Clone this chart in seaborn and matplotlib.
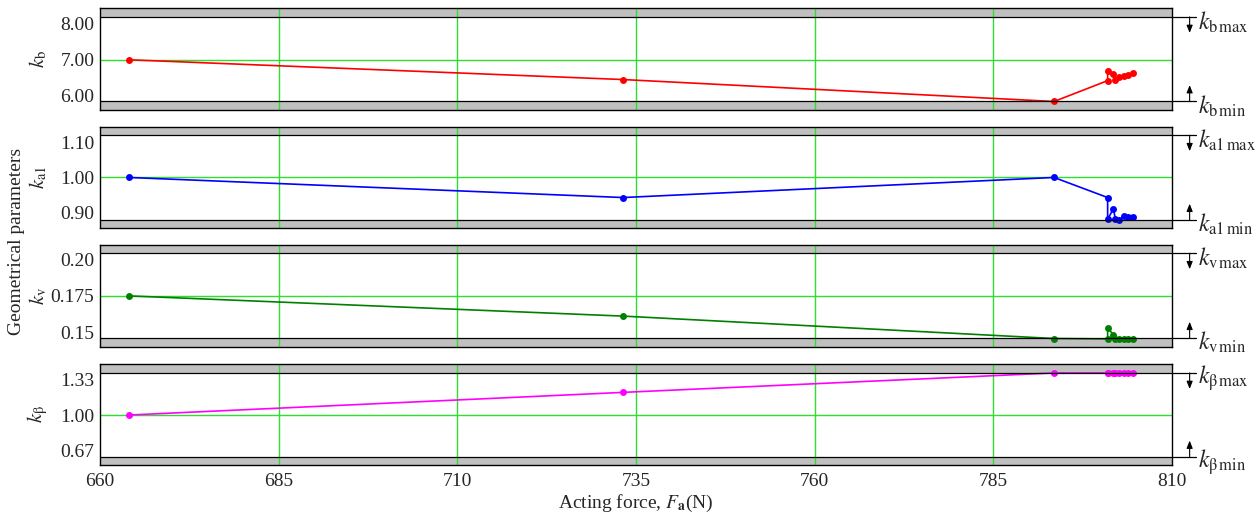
import numpy as np
import pandas as pd
import seaborn as sns
import matplotlib.pyplot as plt
from matplotlib import transforms

# acting force (N) for every computed design point
force = [664.0, 733.2, 793.5, 801.0, 801.0, 801.8, 802.1, 802.6, 803.3, 803.9, 804.5]

# geometrical parameters
k_b = [7.00, 6.45, 5.84, 6.42, 6.70, 6.60, 6.44, 6.52, 6.56, 6.58, 6.62]
k_a1 = [1.000, 0.943, 1.000, 0.943, 0.881, 0.911, 0.881, 0.878, 0.891, 0.888, 0.888]
k_v = [0.175, 0.161, 0.1455, 0.1452, 0.153, 0.148, 0.1455, 0.1455, 0.1455, 0.1455, 0.1455]
k_beta = [1.00, 1.21, 1.39, 1.39, 1.39, 1.39, 1.39, 1.39, 1.39, 1.39, 1.39]

# admissible ranges (min, max) and panel limits
bounds = [(5.85, 8.19), (0.880, 1.120), (0.146, 0.2045), (0.615, 1.39)]
limits = [(5.61, 8.43), (0.856, 1.144), (0.1399, 0.2101), (0.537, 1.477)]
yticks = [[6.0, 7.0, 8.0], [0.90, 1.00, 1.10], [0.15, 0.175, 0.20], [0.67, 1.00, 1.33]]
yticklabels = [["6.00", "7.00", "8.00"], ["0.90", "1.00", "1.10"],
               ["0.15", "0.175", "0.20"], ["0.67", "1.00", "1.33"]]
xticks = [660, 685, 710, 735, 760, 785, 810]

names = ["b", "a1", "v", "β"]
colors = ["#ff0000", "#0000ff", "#008000", "#ff00ff"]
series = [k_b, k_a1, k_v, k_beta]

sns.set_style("white")
plt.rcParams["font.family"] = ["Liberation Serif", "DejaVu Serif"]
plt.rcParams["mathtext.fontset"] = "stix"

fig, axes = plt.subplots(4, 1, figsize=(12.58, 5.19), dpi=100, sharex=True)
fig.subplots_adjust(left=0.0795, right=0.9316, top=0.984, bottom=0.104, hspace=0.167)

grid_green = "#2ee02e"
band_gray = "#c0c0c0"

for i, ax in enumerate(axes):
    lo, hi = limits[i]
    bmin, bmax = bounds[i]
    df = pd.DataFrame({"force": force, "k": series[i]})

    ax.axhspan(lo, bmin, color=band_gray, zorder=0, lw=0)
    ax.axhspan(bmax, hi, color=band_gray, zorder=0, lw=0)
    for xv in xticks[1:-1]:
        ax.axvline(xv, color=grid_green, lw=1.0, zorder=1)
    ax.axhline(yticks[i][1], color=grid_green, lw=1.0, zorder=1)

    sns.lineplot(data=df, x="force", y="k", ax=ax, sort=False, estimator=None,
                 color=colors[i], lw=1.2, marker="o", markersize=5,
                 markeredgewidth=0, zorder=3)

    ax.set_xlim(660, 810)
    ax.set_ylim(lo, hi)
    ax.set_yticks(yticks[i])
    ax.set_yticklabels(yticklabels[i])
    ax.set_xticks(xticks)
    ax.tick_params(axis="both", length=0, labelsize=14, pad=4)
    ax.tick_params(axis="x", pad=6)
    for s in ax.spines.values():
        s.set_color("black")
        s.set_linewidth(1.0)
    ax.set_ylabel(r"$k_{\mathrm{%s}}$" % names[i], fontsize=15)
    ax.yaxis.set_label_coords(-0.047, 0.5)
    ax.set_xlabel("")

    # boundary lines with arrows and labels on the right
    trans = transforms.blended_transform_factory(ax.transAxes, ax.transData)
    for bval, direction, tag in [(bmax, -1, "max"), (bmin, 1, "min")]:
        ax.plot([0, 1.022], [bval, bval], color="black", lw=0.9,
                transform=trans, clip_on=False, zorder=4)
        tip = transforms.offset_copy(trans, fig=fig, y=direction * 16, units="dots")
        ax.annotate("", xy=(1.0165, bval), xycoords=tip,
                    xytext=(1.0165, bval), textcoords=trans,
                    arrowprops=dict(arrowstyle="-|>,head_length=0.45,head_width=0.18",
                                    color="black", lw=0.8, shrinkA=0, shrinkB=0),
                    annotation_clip=False)
        lab = transforms.offset_copy(trans, fig=fig, y=-5, units="dots")
        ax.text(1.024, bval, r"$k_{\mathrm{%s\,%s}}$" % (names[i], tag),
                transform=lab, fontsize=17, va="center", ha="left")

axes[-1].set_xticklabels([str(x) for x in xticks])
axes[-1].set_xlabel(r"Acting force, $F_{\mathbf{a}}$(N)", fontsize=14, labelpad=2)
fig.text(0.0135, 0.535, "Geometrical parameters", rotation=90, fontsize=14,
         va="center", ha="center")

fig.savefig("out.png", dpi=100)
